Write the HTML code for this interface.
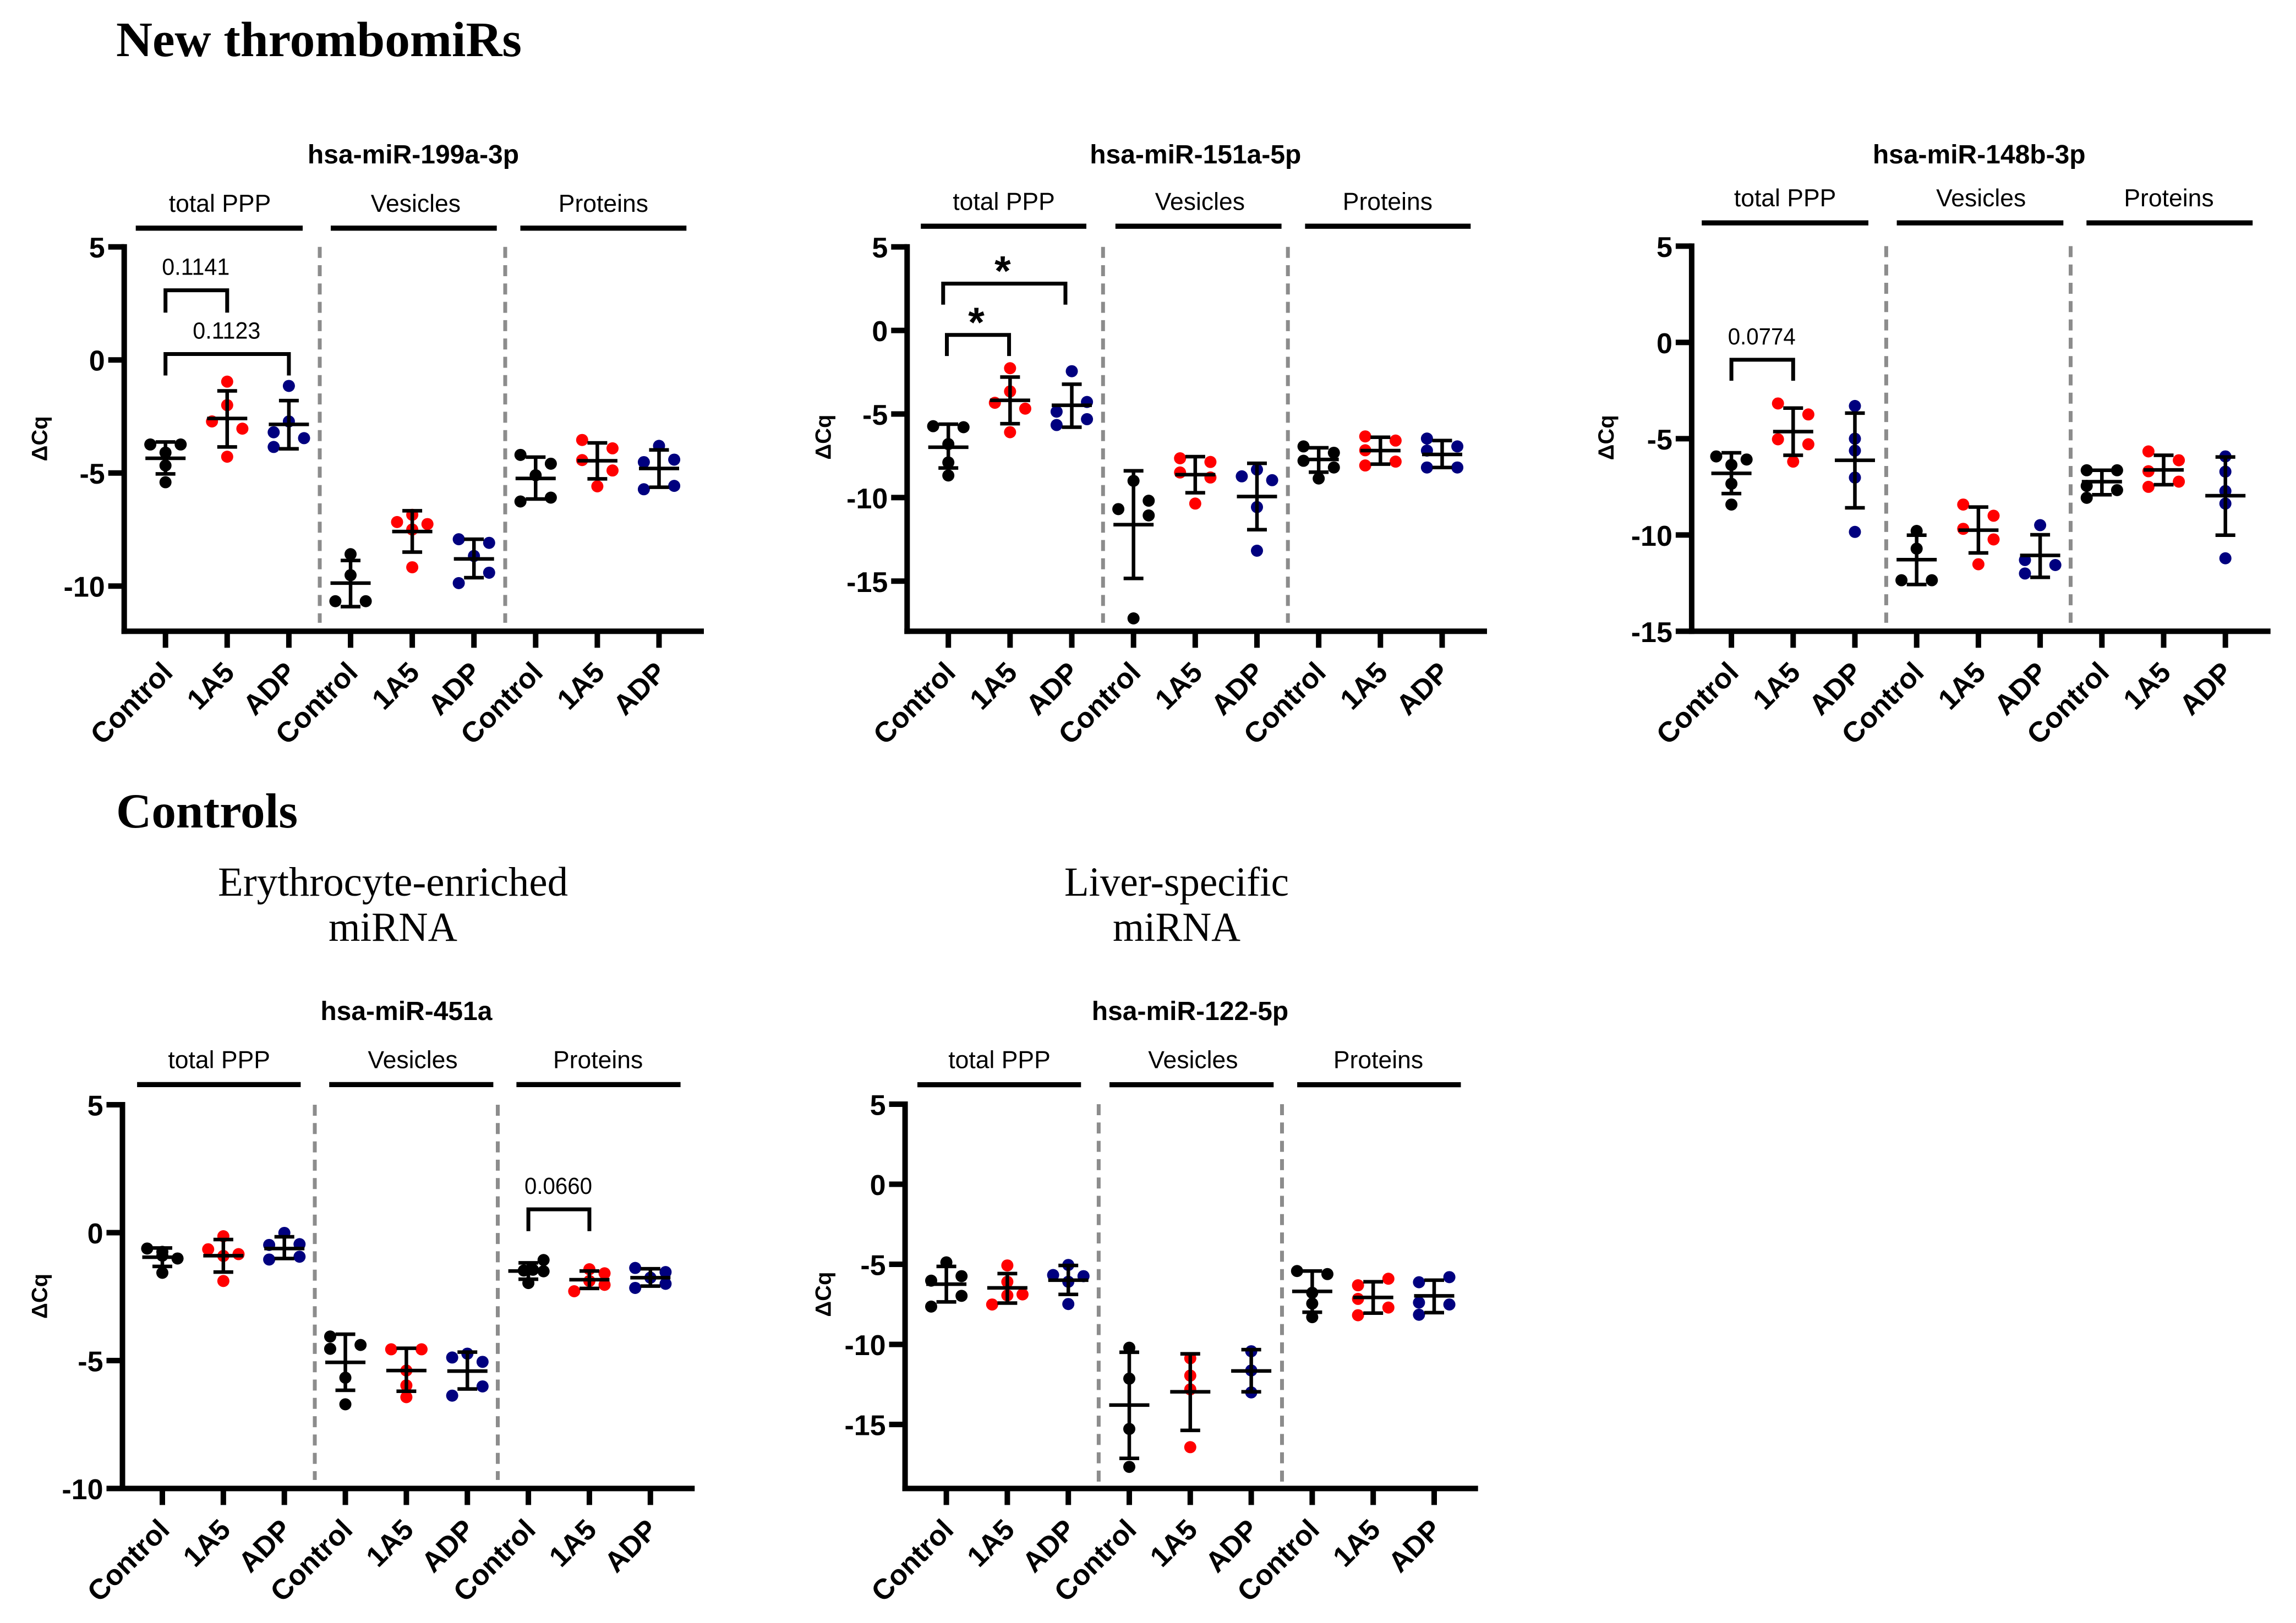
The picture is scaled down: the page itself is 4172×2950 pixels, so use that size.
<!DOCTYPE html>
<html lang="en">
<head>
<meta charset="utf-8">
<title>New thrombomiRs and control miRNAs</title>
<style>
html,body{margin:0;padding:0;background:#fff;}
svg{display:block;}
text{font-family:"Liberation Sans",Arial,sans-serif;fill:#000;}
.serif{font-family:"Liberation Serif","Times New Roman",serif;}
</style>
</head>
<body>
<svg id="figure" xmlns="http://www.w3.org/2000/svg" width="4172" height="2950" viewBox="0 0 4172 2950">
<rect x="0" y="0" width="4172" height="2950" fill="#ffffff"/>
<text class="serif" x="211" y="102" font-size="90" font-weight="700" textLength="737" lengthAdjust="spacingAndGlyphs">New thrombomiRs</text>
<text class="serif" x="211" y="1504" font-size="89" font-weight="700" textLength="330" lengthAdjust="spacingAndGlyphs">Controls</text>
<text class="serif" x="714" y="1628" font-size="75" text-anchor="middle" textLength="636" lengthAdjust="spacingAndGlyphs">Erythrocyte-enriched</text>
<text class="serif" x="714" y="1710" font-size="75" text-anchor="middle" textLength="234" lengthAdjust="spacingAndGlyphs">miRNA</text>
<text class="serif" x="2138" y="1628" font-size="75" text-anchor="middle" textLength="408" lengthAdjust="spacingAndGlyphs">Liver-specific</text>
<text class="serif" x="2138" y="1710" font-size="75" text-anchor="middle" textLength="232" lengthAdjust="spacingAndGlyphs">miRNA</text>
</svg>
<script>
/* shared category data */
const categories = ["Control","1A5","ADP","Control","1A5","ADP","Control","1A5","ADP"];
const groupLabels = ["total PPP","Vesicles","Proteins"];
const yAxisTitle = "\u0394Cq";

/* hsa-miR-199a-3p */
const panel1Title = "hsa-miR-199a-3p";
const panel1Ticks = [5,0,-5,-10];
const panel1Values = [
 [-3.74,-3.74,-4.1,-4.67,-5.41],[-0.96,-2.0,-2.72,-3.04,-4.28],[-1.15,-2.72,-3.2,-3.46,-3.85],
 [-8.59,-9.52,-10.67,-10.67],[-6.85,-7.17,-7.26,-7.5,-9.17],[-7.93,-8.09,-8.67,-9.41,-9.87],
 [-4.2,-4.59,-5.1,-6.09,-6.26],[-3.54,-3.91,-4.43,-4.89,-5.59],[-3.8,-4.41,-4.52,-5.57,-5.72]];
const panel1Lanes = [
 [-1,1,0,0,0],[0,0,-1,1,0],[0,0,-1,1,-1],
 [0,0,-1,1],[0,-1,1,0,0],[-1,1,0,1,-1],
 [-1,1,0,1,-1],[-1,1,-1,1,0],[0,1,-1,1,-1]];
const panel1Means = [-4.35,-2.59,-2.85,-9.87,-7.59,-8.8,-5.24,-4.46,-4.8];
const panel1SdHigh = [-3.63,-1.37,-1.8,-8.87,-6.67,-7.93,-4.3,-3.67,-3.98];
const panel1SdLow = [-5.04,-3.85,-3.93,-10.91,-8.5,-9.63,-6.15,-5.26,-5.63];
const panel1Brackets = [
 {from:0,to:1,top:3.08,bottom:2.09,label:"0.1141"},
 {from:0,to:2,top:0.26,bottom:-0.69,label:"0.1123"}];

/* hsa-miR-151a-5p */
const panel2Title = "hsa-miR-151a-5p";
const panel2Ticks = [5,0,-5,-10,-15];
const panel2Values = [
 [-5.73,-5.79,-6.8,-7.9,-8.68],[-2.26,-3.65,-4.33,-4.68,-6.09],[-2.44,-4.28,-4.86,-5.31,-5.66],
 [-9.0,-10.19,-10.69,-11.07,-17.23],[-7.65,-7.87,-8.5,-8.8,-10.36],[-8.33,-8.73,-8.96,-10.57,-13.18],
 [-6.94,-7.32,-7.8,-8.2,-8.86],[-6.34,-6.59,-7.17,-7.85,-8.08],[-6.47,-6.94,-7.19,-8.2,-8.2]];
const panel2Lanes = [
 [-1,1,0,0,0],[0,0,-1,1,0],[0,1,-1,1,-1],
 [0,1,-1,1,0],[-1,1,-1,1,0],[0,-1,1,0,0],
 [-1,1,-1,1,0],[-1,1,-1,1,-1],[-1,1,-1,1,-1]];
const panel2Means = [-6.99,-4.18,-4.48,-11.62,-8.63,-9.94,-7.72,-7.19,-7.42];
const panel2SdHigh = [-5.61,-2.79,-3.22,-8.4,-7.55,-7.95,-7.02,-6.39,-6.59];
const panel2SdLow = [-8.23,-5.58,-5.79,-14.84,-9.71,-11.92,-8.48,-8.0,-8.2];
const panel2Brackets = [
 {from:-0.084,to:1.897,top:2.8,bottom:1.54,label:"*"},
 {from:-0.024,to:0.984,top:-0.27,bottom:-1.53,label:"*"}];

/* hsa-miR-148b-3p */
const panel3Title = "hsa-miR-148b-3p";
const panel3Ticks = [5,0,-5,-10,-15];
const panel3Values = [
 [-5.92,-6.08,-6.36,-7.34,-8.42],[-3.17,-3.74,-5.03,-5.29,-6.19],[-3.3,-5.0,-5.62,-7.02,-9.84],
 [-9.79,-10.71,-12.35,-12.35],[-8.42,-9.0,-9.68,-10.23,-11.52],[-9.49,-11.3,-11.56,-12.0],
 [-6.64,-6.64,-7.45,-7.67,-8.07],[-5.66,-6.12,-6.69,-7.23,-7.5],[-5.92,-6.71,-7.72,-8.37,-11.21]];
const panel3Lanes = [
 [-1,1,0,0,0],[-1,1,-1,1,0],[0,0,0,0,0],
 [0,0,-1,1],[-1,1,-1,1,0],[0,-1,1,-1],
 [-1,1,-1,1,-1],[-1,1,-1,1,-1],[0,0,0,0,0]];
const panel3Means = [-6.8,-4.63,-6.12,-11.28,-9.75,-11.06,-7.23,-6.62,-7.96];
const panel3SdHigh = [-5.73,-3.41,-3.67,-10.01,-8.55,-9.99,-6.64,-5.86,-5.95];
const panel3SdLow = [-7.85,-5.86,-8.59,-12.57,-10.93,-12.2,-7.91,-7.39,-10.01];
const panel3Brackets = [{from:0,to:1,top:-0.9,bottom:-1.99,label:"0.0774"}];

/* hsa-miR-451a */
const panel4Title = "hsa-miR-451a";
const panel4Ticks = [5,0,-5,-10];
const panel4Values = [
 [-0.62,-0.75,-0.9,-1.01,-1.57],[-0.14,-0.65,-0.91,-0.84,-1.89],[-0.01,-0.48,-0.45,-1.05,-0.94],
 [-4.06,-4.54,-4.39,-5.67,-6.71],[-4.56,-4.56,-5.39,-5.97,-6.43],[-4.73,-4.88,-5.05,-6.01,-6.37],
 [-1.07,-1.48,-1.45,-1.51,-1.97],[-1.43,-1.59,-1.89,-2.04,-2.29],[-1.38,-1.54,-1.76,-2.0,-2.16]];
const panel4Lanes = [
 [-1,0,0,1,0],[0,-1,0,1,0],[0,-1,1,-1,1],
 [-1,-1,1,0,0],[-1,1,0,0,0],[0,-1,1,1,-1],
 [1,-0.3,0.3,1,0],[0,1,0,1,-1],[-1,1,0,1,-1]];
const panel4Means = [-0.96,-0.9,-0.62,-5.07,-5.39,-5.41,-1.5,-1.84,-1.76];
const panel4SdHigh = [-0.6,-0.27,-0.16,-3.97,-4.52,-4.67,-1.18,-1.5,-1.41];
const panel4SdLow = [-1.32,-1.54,-1.01,-6.16,-6.2,-6.11,-1.82,-2.18,-2.09];
const panel4Brackets = [{from:6,to:7,top:0.91,bottom:0.06,label:"0.0660"}];

/* hsa-miR-122-5p */
const panel5Title = "hsa-miR-122-5p";
const panel5Ticks = [5,0,-5,-10,-15];
const panel5Values = [
 [-4.88,-5.74,-6.02,-6.97,-7.64],[-5.07,-6.09,-6.88,-6.94,-7.51],[-5.04,-5.67,-5.74,-6.09,-7.48],
 [-10.21,-12.14,-15.28,-17.65],[-10.87,-11.95,-12.81,-16.42],[-10.43,-11.63,-13.0],
 [-5.42,-5.61,-6.78,-7.45,-8.3],[-5.9,-6.31,-7.16,-7.7,-8.18],[-5.8,-6.12,-7.39,-7.51,-8.15]];
const panel5Lanes = [
 [0,1,-1,1,-1],[0,0,1,0,-1],[0,-1,1,0,0],
 [0,0,0,0],[0,0,0,0],[0,0,0],
 [-1,1,0,0,0],[1,-1,-1,1,-1],[1,-1,-1,1,-1]];
const panel5Means = [-6.24,-6.47,-5.99,-13.79,-12.96,-11.66,-6.69,-7.07,-6.97];
const panel5SdHigh = [-5.13,-5.58,-5.07,-10.49,-10.59,-10.33,-5.42,-6.09,-5.99];
const panel5SdLow = [-7.35,-7.42,-6.88,-17.12,-15.37,-12.96,-7.99,-8.05,-8.02];
const panel5Brackets = [];

const seriesColors = ["#000000","#ff0000","#00007f"];
const SVG_NS = "http://www.w3.org/2000/svg";
const figure = document.getElementById("figure");

function make(tag, parent){
  const el = document.createElementNS(SVG_NS, tag);
  parent.appendChild(el);
  return el;
}
function setLine(el, x1, y1, x2, y2, width, color){
  el.setAttribute("x1", x1);
  el.setAttribute("y1", y1);
  el.setAttribute("x2", x2);
  el.setAttribute("y2", y2);
  el.setAttribute("stroke", color);
  el.setAttribute("stroke-width", width);
}

function drawPanel(layout, data){
  const yScale = v => layout.yTop + (layout.yMax - v) / (layout.yMax - layout.yMin) * (layout.yBottom - layout.yTop);
  const xScale = i => layout.x0 + i * layout.step;
  const g = make("g", figure);
  
  

  const title = make("text", g);
  title.setAttribute("x", layout.titleX);
  title.setAttribute("y", layout.titleY);
  title.setAttribute("font-size", 48);
  title.setAttribute("font-weight", 700);
  title.setAttribute("text-anchor", "middle");
  title.textContent = data.title;
  
  

  groupLabels.forEach((name, k) => {
    const lab = make("text", g);
    lab.setAttribute("x", layout.groupCenters[k]);
    lab.setAttribute("y", layout.groupLabelY);
    lab.setAttribute("font-size", 44.5);
    lab.setAttribute("text-anchor", "middle");
    lab.textContent = name;
    
    
    const bar = make("line", g);
    setLine(bar, layout.groupBars[k][0], layout.groupBarY, layout.groupBars[k][1], layout.groupBarY, 9.3, "#000");
    
    
  });

  layout.dividers.forEach(x => {
    const d = make("line", g);
    setLine(d, x, layout.yTop, x, layout.dividerEnd, 7, "#8c8c8c");
    d.setAttribute("stroke-dasharray", "20 13.3");
    
    
  });

  const yAxis = make("line", g);
  setLine(yAxis, layout.axisX, layout.yTop - 5, layout.axisX, layout.yBottom + 5, 10, "#000");
  
  
  const xAxis = make("line", g);
  setLine(xAxis, layout.axisX - 5, layout.yBottom, layout.axisEnd, layout.yBottom, 10, "#000");
  
  

  data.ticks.forEach(t => {
    const mark = make("line", g);
    setLine(mark, layout.axisX - 29, yScale(t), layout.axisX, yScale(t), 10, "#000");
    
    
    const lab = make("text", g);
    lab.setAttribute("x", layout.axisX - 35);
    lab.setAttribute("y", yScale(t) + 19.5);
    lab.setAttribute("font-size", 52);
    lab.setAttribute("font-weight", 700);
    lab.setAttribute("text-anchor", "end");
    lab.textContent = t;
    
    
  });

  const yTitle = make("text", g);
  yTitle.setAttribute("transform", "translate(" + (layout.yTitleX + 14) + "," + layout.yTitleY + ") rotate(-90)");
  yTitle.setAttribute("font-size", 40);
  yTitle.setAttribute("font-weight", 700);
  yTitle.setAttribute("text-anchor", "middle");
  yTitle.textContent = yAxisTitle;
  
  

  categories.forEach((name, i) => {
    const x = xScale(i);
    const color = seriesColors[i % 3];
    const mark = make("line", g);
    setLine(mark, x, layout.yBottom, x, layout.yBottom + 30, 10, "#000");
    
    
    const lab = make("text", g);
    lab.setAttribute("transform", "translate(" + (x + 16) + "," + (layout.yBottom + 78) + ") rotate(-45)");
    lab.setAttribute("font-size", 52);
    lab.setAttribute("font-weight", 700);
    lab.setAttribute("text-anchor", "end");
    lab.textContent = name;
    
    

    data.values[i].forEach((v, j) => {
      const dot = make("circle", g);
      dot.setAttribute("cx", x + data.lanes[i][j] * 27.6);
      dot.setAttribute("cy", yScale(v));
      dot.setAttribute("r", 11);
      dot.setAttribute("fill", color);
      
      
    });

    const stem = make("line", g);
    setLine(stem, x, yScale(data.sdHigh[i]), x, yScale(data.sdLow[i]), 6.5, "#000");
    
    
    const capHigh = make("line", g);
    setLine(capHigh, x - 18, yScale(data.sdHigh[i]), x + 18, yScale(data.sdHigh[i]), 6.5, "#000");
    
    
    const capLow = make("line", g);
    setLine(capLow, x - 18, yScale(data.sdLow[i]), x + 18, yScale(data.sdLow[i]), 6.5, "#000");
    
    
    const mean = make("line", g);
    setLine(mean, x - 36.5, yScale(data.means[i]), x + 36.5, yScale(data.means[i]), 6.5, "#000");
    
    
  });

  data.brackets.forEach(b => {
    const path = make("path", g);
    const xa = xScale(b.from), xb = xScale(b.to), top = yScale(b.top), bottom = yScale(b.bottom);
    path.setAttribute("d", "M" + xa + " " + bottom + "V" + top + "H" + xb + "V" + bottom);
    path.setAttribute("fill", "none");
    path.setAttribute("stroke", "#000");
    path.setAttribute("stroke-width", 7);
    
    
    const lab = make("text", g);
    const star = b.label === "*";
    lab.setAttribute("x", (xa + xb) / 2 - (star ? 3 : 1));
    lab.setAttribute("y", top + (star ? 3 : -28));
    lab.setAttribute("font-size", star ? 76 : 43);
    lab.setAttribute("text-anchor", "middle");
    if (star) {
      lab.setAttribute("font-weight", 700);
    } else {
      lab.setAttribute("textLength", 123);
      lab.setAttribute("lengthAdjust", "spacingAndGlyphs");
    }
    lab.textContent = b.label;
    
    
  });
}

drawPanel(
 {x0:300.7,step:112.1,axisX:225.7,axisEnd:1279,yTop:448.7,yBottom:1147.4,yMax:5,yMin:-12,
  titleX:751,titleY:297,groupLabelY:385,groupBarY:414.7,groupCenters:[399.5,755.4,1096.4],
  groupBars:[[246.7,550],[601,902.7],[945.5,1247.3]],dividers:[581,918],dividerEnd:1132,yTitleX:71.4,yTitleY:797.3},
 {title:panel1Title,ticks:panel1Ticks,values:panel1Values,lanes:panel1Lanes,means:panel1Means,sdHigh:panel1SdHigh,sdLow:panel1SdLow,brackets:panel1Brackets});
drawPanel(
 {x0:1723.2,step:112.16,axisX:1648.3,axisEnd:2702,yTop:448.7,yBottom:1147.4,yMax:5,yMin:-18,
  titleX:2172.3,titleY:297,groupLabelY:381.3,groupBarY:411.2,groupCenters:[1824,2180.4,2521.4],
  groupBars:[[1673.2,1974],[2026.8,2328.6],[2371.4,2672.3]],dividers:[2004.3,2340.2],dividerEnd:1132,yTitleX:1495.5,yTitleY:794.6},
 {title:panel2Title,ticks:panel2Ticks,values:panel2Values,lanes:panel2Lanes,means:panel2Means,sdHigh:panel2SdHigh,sdLow:panel2SdLow,brackets:panel2Brackets});
drawPanel(
 {x0:3146.1,step:112.2,axisX:3073.9,axisEnd:4125.7,yTop:447.4,yBottom:1147.4,yMax:5,yMin:-15,
  titleX:3596.2,titleY:297,groupLabelY:375.2,groupBarY:405.1,groupCenters:[3243.6,3599.7,3941],
  groupBars:[[3092.2,3395],[3446.6,3749.3],[3791.3,4093.2]],dividers:[3427.4,3762.5],dividerEnd:1132,yTitleX:2918.1,yTitleY:795.4},
 {title:panel3Title,ticks:panel3Ticks,values:panel3Values,lanes:panel3Lanes,means:panel3Means,sdHigh:panel3SdHigh,sdLow:panel3SdLow,brackets:panel3Brackets});
drawPanel(
 {x0:295,step:110.85,axisX:222.5,axisEnd:1262.3,yTop:2008,yBottom:2705.5,yMax:5,yMin:-10,
  titleX:738.4,titleY:1854,groupLabelY:1941.4,groupBarY:1971.4,groupCenters:[398.2,750,1086.6],
  groupBars:[[249.1,546.4],[598.2,896.4],[938.4,1236.6]],dividers:[572,904.5],dividerEnd:2690,yTitleX:71.4,yTitleY:2356},
 {title:panel4Title,ticks:panel4Ticks,values:panel4Values,lanes:panel4Lanes,means:panel4Means,sdHigh:panel4SdHigh,sdLow:panel4SdLow,brackets:panel4Brackets});
drawPanel(
 {x0:1719.6,step:110.8,axisX:1644.6,axisEnd:2685.7,yTop:2007,yBottom:2705.5,yMax:5,yMin:-19,
  titleX:2162.5,titleY:1854,groupLabelY:1941.6,groupBarY:1971.6,groupCenters:[1816,2167.9,2504.5],
  groupBars:[[1667,1964.3],[2016,2314.3],[2357.1,2654.5]],dividers:[1996.4,2329.5],dividerEnd:2693,yTitleX:1495.5,yTitleY:2352.6},
 {title:panel5Title,ticks:panel5Ticks,values:panel5Values,lanes:panel5Lanes,means:panel5Means,sdHigh:panel5SdHigh,sdLow:panel5SdLow,brackets:panel5Brackets});
</script>
</body>
</html>
